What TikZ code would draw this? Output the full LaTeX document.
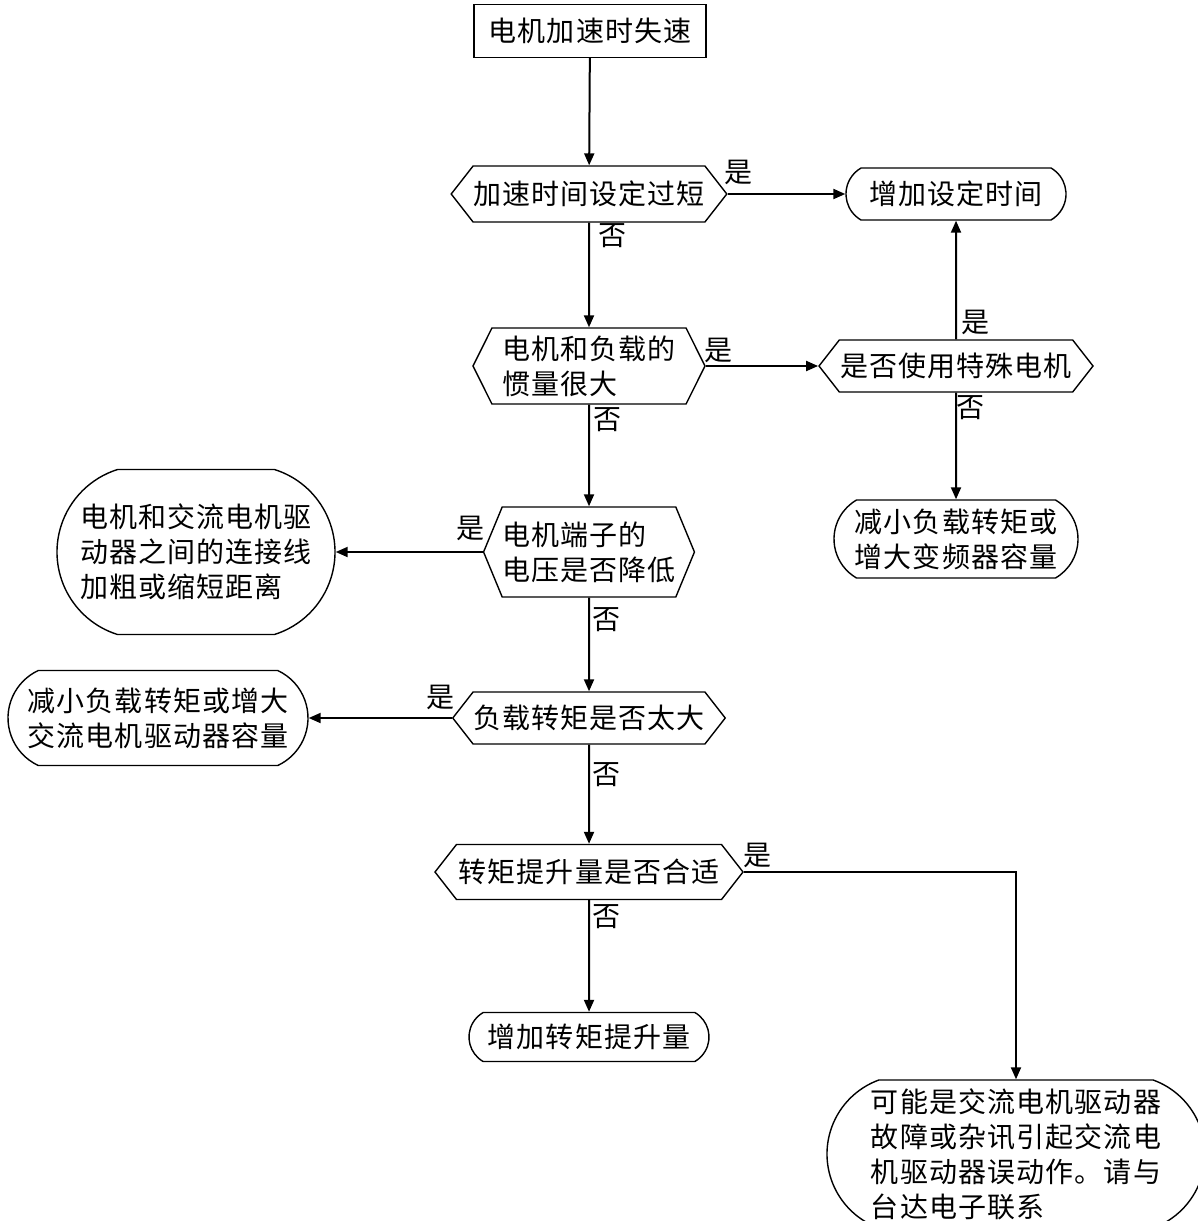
\documentclass[tikz,border=0pt]{standalone}
\usepackage{fontspec}
\newfontfamily\cjk[LetterSpace=4]{Noto Sans CJK SC}
\usetikzlibrary{shapes.symbols,shapes.misc,arrows.meta}
\tikzset{
  every node/.style={font=\cjk\fontsize{14}{17.5}\selectfont, inner sep=0pt},
  ask/.style={draw, line width=0.7pt, signal, signal to=east and west,
    signal pointer angle=104, align=left},
  result/.style={draw, line width=0.7pt, rounded rectangle,
    rounded rectangle arc length=120, align=left},
  flow/.style={line width=1pt, -{Triangle[length=6pt,width=5pt]}},
}
\begin{document}
\begin{tikzpicture}[x=0.5pt, y=-0.5pt]
\useasboundingbox (0,0) rectangle (1198,1221);
\clip (0,0) rectangle (1198,1221);

% main column
\node[draw, line width=0.7pt, minimum width=116pt, minimum height=26.5pt] (start) at (590,31) {电机加速时失速};
\node[ask, minimum width=135pt, minimum height=28pt] (short) at (589,194) {加速时间设定过短};
\node[ask, minimum width=116pt, minimum height=38pt, signal pointer angle=127] (inertia) at (589,366) {电机和负载的\\惯量很大};
\node[ask, minimum width=104pt, minimum height=45pt, signal pointer angle=135] (voltage) at (589,552) {电机端子的\\电压是否降低};
\node[ask, minimum width=131pt, minimum height=26pt] (load) at (589,718) {负载转矩是否太大};
\node[ask, minimum width=154pt, minimum height=27.5pt] (boost) at (589,872) {转矩提升量是否合适};
\node[result, minimum width=120pt, minimum height=24.5pt] (addboost) at (589,1037) {增加转矩提升量};

% right column
\node[result, minimum width=110pt, minimum height=26pt] (addtime) at (956,194) {增加设定时间};
\node[ask, minimum width=137pt, minimum height=26pt] (special) at (956,366) {是否使用特殊电机};
\node[result, minimum width=122pt, minimum height=39pt] (lessload) at (956,539) {减小负载转矩或\\增大变频器容量};
\node[result, minimum width=189pt, minimum height=74pt, rounded rectangle arc length=140] (contact) at (1016,1154) {可能是交流电机驱动器\\故障或杂讯引起交流电\\机驱动器误动作。请与\\台达电子联系};

% left column
\node[result, minimum width=139pt, minimum height=82.5pt, rounded rectangle arc length=145] (wire) at (196,552) {电机和交流电机驱\\动器之间的连接线\\加粗或缩短距离};
\node[result, minimum width=150pt, minimum height=47.5pt, rounded rectangle arc length=130] (lessload2) at (158,718) {减小负载转矩或增大\\交流电机驱动器容量};

% yes / no labels
\node (y1) at (738,172) {是};
\node (n1) at (612,236) {否};
\node (y2) at (718,350) {是};
\node (n2) at (607,420) {否};
\node (y3) at (975,322) {是};
\node (n3) at (970,408) {否};
\node (y4) at (470,528) {是};
\node (n4) at (606,620) {否};
\node (y5) at (440,697) {是};
\node (n5) at (606,775) {否};
\node (y6) at (757,855) {是};
\node (n6) at (606,917) {否};

% connectors
\draw[flow] (start) -- (short);
\draw[flow] (short) -- (inertia);
\draw[flow] (inertia) -- (voltage);
\draw[flow] (voltage) -- (load);
\draw[flow] (load) -- (boost);
\draw[flow] (boost) -- (addboost);
\draw[flow] (short.east) -- (addtime.west);
\draw[flow] (inertia.east) -- (special.west);
\draw[flow] (special) -- (addtime);
\draw[flow] (special) -- (lessload);
\draw[flow] (voltage.west) -- (wire.east);
\draw[flow] (load.west) -- (lessload2.east);
\draw[flow] (boost.east) -| (contact.north);
\end{tikzpicture}
\end{document}
